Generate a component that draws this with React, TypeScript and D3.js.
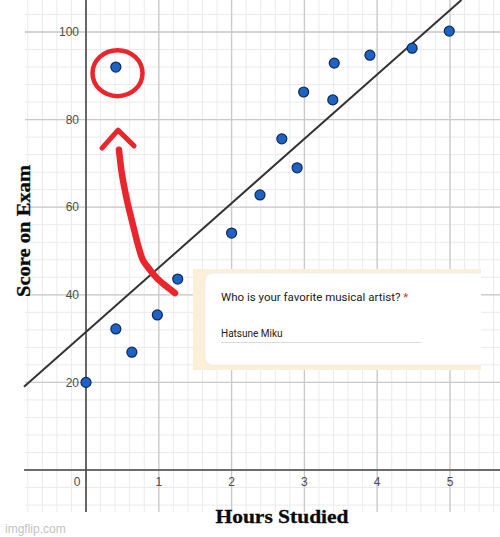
import React from "react";
import * as d3 from "d3";

const hours = [0, 0.41, 0.63, 0.98, 1.26, 0.41, 2.0, 2.39, 2.69, 2.9, 2.99, 3.39, 3.41, 3.9, 4.48, 4.99];
const scores = [20, 32.2, 26.9, 35.4, 43.6, 92, 54.1, 62.8, 75.6, 69, 86.3, 84.5, 92.9, 94.7, 96.3, 100.2];
const xTicks = [0, 1, 2, 3, 4, 5];
const yTicks = [20, 40, 60, 80, 100];
const fitIntercept = 31.5;
const fitSlope = 14.7;
const arrowShaftX = [0.453, 0.495, 0.563, 0.646, 0.714, 0.783, 0.879, 0.975, 1.099, 1.223];
const arrowShaftY = [73.1, 67.4, 61.6, 55.9, 51.4, 47.9, 45.7, 43.8, 42.0, 40.4];
const arrowHeadX = [0.22, 0.44, 0.66];
const arrowHeadY = [73.5, 77.6, 74.0];
const circleCenter = [0.433, 90.6];
const question = "Who is your favorite musical artist?";
const answer = "Hatsune Miku";

const W = 500;
const H = 537;

export default function App() {
  const x = d3.scaleLinear().domain([0, 5]).range([86, 450]);
  const y = d3.scaleLinear().domain([0, 100]).range([470, 32]);
  const gx0 = 25, gx1 = 500, gy0 = 0, gy1 = 512;

  const minorX = d3.range(-4, 29).map((i) => i * 0.2).filter((v) => x(v) >= gx0 - 1 && x(v) <= gx1);
  const minorY = d3.range(-2, 28).map((i) => i * 4).filter((v) => y(v) >= gy0 && y(v) <= gy1);
  const majorX = d3.range(0, 6);
  const majorY = d3.range(0, 6).map((i) => i * 20);

  const fitLine = d3.line<number>().x((v) => x(v)).y((v) => y(fitIntercept + fitSlope * v));
  const xEnd = (y.invert(0) - fitIntercept) / fitSlope;
  const fitPath = fitLine([x.invert(24), xEnd]);

  const shaft = d3
    .line<number>()
    .x((_, i) => x(arrowShaftX[i]))
    .y((_, i) => y(arrowShaftY[i]))
    .curve(d3.curveCatmullRom)(arrowShaftX);
  const head = d3
    .line<number>()
    .x((_, i) => x(arrowHeadX[i]))
    .y((_, i) => y(arrowHeadY[i]))(arrowHeadX);

  const red = "#e8262c";

  return (
    <svg
      width={W}
      height={H}
      style={{ position: "absolute", left: 0, top: 0, background: "#fff" }}
      fontFamily="Arial, 'Liberation Sans', sans-serif"
    >
      <rect x={0} y={0} width={W} height={H} fill="#fff" />
      {/* minor grid */}
      <g stroke="#ebebeb" strokeWidth={1}>
        {minorX.map((v, i) => (
          <line key={"mx" + i} x1={x(v)} x2={x(v)} y1={gy0} y2={gy1} />
        ))}
        {minorY.map((v, i) => (
          <line key={"my" + i} x1={gx0} x2={gx1} y1={y(v)} y2={y(v)} />
        ))}
      </g>
      {/* major grid */}
      <g stroke="#c9c9c9" strokeWidth={1.3}>
        {majorX.map((v) => (
          <line key={"Mx" + v} x1={x(v)} x2={x(v)} y1={gy0} y2={gy1} />
        ))}
        {majorY.map((v) => (
          <line key={"My" + v} x1={gx0} x2={gx1} y1={y(v)} y2={y(v)} />
        ))}
      </g>
      {/* axes */}
      <line x1={x(0)} x2={x(0)} y1={0} y2={512} stroke="#4a4a4a" strokeWidth={1.6} />
      <line x1={24} x2={500} y1={y(0)} y2={y(0)} stroke="#4a4a4a" strokeWidth={1.6} />
      {/* tick labels */}
      <g fill="#4d4d4d" fontSize={12}>
        {yTicks.map((v) => (
          <text key={"yt" + v} x={79} y={y(v)} dy="0.35em" textAnchor="end">
            {v}
          </text>
        ))}
        {xTicks.map((v) => (
          <text key={"xt" + v} x={v === 0 ? 77 : x(v)} y={486} textAnchor="middle">
            {v}
          </text>
        ))}
      </g>
      {/* regression line */}
      <path d={fitPath || ""} stroke="#333" strokeWidth={2} fill="none" />
      {/* points */}
      <g>
        {hours.map((h, i) => (
          <circle key={"p" + i} cx={x(h)} cy={y(scores[i])} r={5} fill="#1d62c4" stroke="#0d2b57" strokeWidth={1.2} />
        ))}
      </g>
      {/* red annotation */}
      <ellipse
        cx={x(circleCenter[0])}
        cy={y(circleCenter[1])}
        rx={25}
        ry={23}
        fill="none"
        stroke={red}
        strokeWidth={4.5}
      />
      <path d={shaft || ""} stroke={red} strokeWidth={6.5} fill="none" strokeLinecap="round" strokeLinejoin="round" />
      <path d={head || ""} stroke={red} strokeWidth={5} fill="none" strokeLinecap="round" strokeLinejoin="round" />
      {/* form card overlay */}
      <rect x={193} y={269} width={288} height={101} fill="#fcefd8" />
      <rect x={205} y={273} width={290} height={92} rx={8} fill="#fff" stroke="#ececec" strokeWidth={0.8} />
      <rect x={481} y={266} width={19} height={106} fill="#fff" />
      <g stroke="#ebebeb" strokeWidth={1}>
        {minorY
          .filter((v) => y(v) > 266 && y(v) < 372)
          .map((v, i) => (
            <line key={"cg" + i} x1={481} x2={500} y1={y(v)} y2={y(v)} />
          ))}
        {minorX
          .filter((v) => x(v) > 481)
          .map((v, i) => (
            <line key={"cgx" + i} x1={x(v)} x2={x(v)} y1={266} y2={372} />
          ))}
      </g>
      <g stroke="#c9c9c9" strokeWidth={1.3}>
        <line x1={481} x2={500} y1={y(40)} y2={y(40)} />
      </g>
      <text x={221} y={301} fontFamily="Roboto, Arial, sans-serif" fontSize={11.5} fill="#202124">
        {question}
        <tspan fill="#d93025"> *</tspan>
      </text>
      <text x={221} y={337} fontFamily="Roboto, Arial, sans-serif" fontSize={10} fill="#202124">
        {answer}
      </text>
      <line x1={221} x2={421} y1={342.5} y2={342.5} stroke="#dadce0" strokeWidth={1} />
      {/* axis titles */}
      <text
        transform="translate(30,231) rotate(-90)"
        textAnchor="middle"
        fontFamily="'Liberation Serif', 'DejaVu Serif', serif"
        fontWeight="bold"
        fontSize={19}
        fill="#0a0a0a"
        stroke="#0a0a0a"
        strokeWidth={0.3}
        textLength={132}
        lengthAdjust="spacingAndGlyphs"
      >
        Score on Exam
      </text>
      <text
        x={282}
        y={523}
        textAnchor="middle"
        fontFamily="'Liberation Serif', 'DejaVu Serif', serif"
        fontWeight="bold"
        fontSize={19}
        fill="#0a0a0a"
        stroke="#0a0a0a"
        strokeWidth={0.3}
        textLength={133}
        lengthAdjust="spacingAndGlyphs"
      >
        Hours Studied
      </text>
      <text x={5} y={533} fontSize={12} fill="#c2c2c2" fontFamily="'Liberation Sans', Arial, sans-serif">
        imgflip.com
      </text>
    </svg>
  );
}
